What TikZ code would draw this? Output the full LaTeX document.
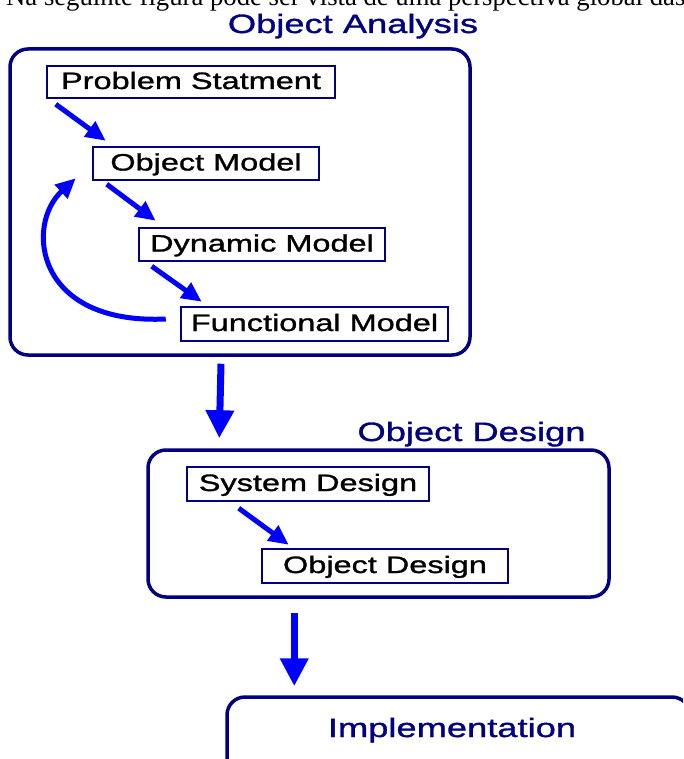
\documentclass[tikz,border=0pt]{standalone}
\usepackage{fontspec}
\usetikzlibrary{arrows.meta,calc}
\newfontfamily\diagsans{Liberation Sans}[FakeStretch=1.37, FakeBold=1.2]
\newfontfamily\topserif{Liberation Serif}
\definecolor{boxnavy}{RGB}{0,0,128}
\definecolor{flowblue}{RGB}{0,0,255}
\tikzset{
  stagebox/.style={draw=boxnavy, line width=3.5pt, rounded corners=18pt, inner sep=0pt},
  modelbox/.style={draw=boxnavy, line width=2.5pt, fill=white, inner sep=0pt,
    font=\diagsans\fontsize{23.7}{28}\selectfont, text=black,
    text height=17pt, text depth=3pt},
  stagetitle/.style={font=\diagsans\fontsize{26.5}{30}\selectfont, text=boxnavy,
    inner sep=0pt, anchor=base},
  flow/.style={draw=flowblue, line width=5pt,
    -{Triangle[length=20pt, width=18pt]}},
  bigflow/.style={draw=flowblue, line width=7pt,
    -{Triangle[length=28pt, width=27pt]}}
}
\begin{document}
\begin{tikzpicture}[x=1pt, y=-1pt]
  \path[use as bounding box] (0,0) rectangle (683,759);
  \clip (0,0) rectangle (683,759);
  \fill[white] (0,0) rectangle (683,759);

  % running text line above the figure
  \node[anchor=base west, inner sep=0pt, font=\topserif\fontsize{26.7}{30}\selectfont]
    (caption) at (6,6) {Na seguinte figura pode ser vista de uma perspectiva global das};

  % stage frames
  \node[stagebox, minimum width=460pt, minimum height=306pt] (oa) at (240,202) {};
  \node[stagebox, minimum width=461pt, minimum height=147pt] (odz) at (378.5,523.5) {};
  \node[stagebox, minimum width=463pt, minimum height=80pt] (impl) at (458.5,737) {};

  % stage titles
  \node[stagetitle] (oatitle) at (353,33) {Object Analysis};
  \node[stagetitle] (odtitle) at (471.5,441) {Object Design};
  \node[stagetitle] (impltitle) at (452,737) {Implementation};

  % model boxes
  \node[modelbox, minimum width=288pt, minimum height=32pt] (ps) at (191,82) {Problem Statment};
  \node[modelbox, minimum width=226pt, minimum height=33pt] (om) at (206,163.5) {Object Model};
  \node[modelbox, minimum width=246pt, minimum height=33pt] (dm) at (262,244.5) {Dynamic Model};
  \node[modelbox, minimum width=267pt, minimum height=34pt] (fm) at (314.5,324) {Functional Model};
  \node[modelbox, minimum width=242pt, minimum height=34pt] (sd) at (308,484) {System Design};
  \node[modelbox, minimum width=246pt, minimum height=34pt] (od) at (385,566) {Object Design};

  % flow inside the analysis stage
  \draw[flow] ($(ps.south west)+(10,5)$) -- ($(om.north west)+(14,-5)$);
  \draw[flow] ($(om.south west)+(15,3)$) -- ($(dm.north west)+(18,-6)$);
  \draw[flow] ($(dm.south west)+(14,4)$) -- ($(fm.north west)+(22,-4)$);
  \draw[flow] ($(fm.west)+(-14,-5)$) .. controls (35,325) and (25,225) .. ($(om.south west)+(-16,-3)$);

  % flow inside the design stage
  \draw[flow] ($(sd.south west)+(53,6)$) -- ($(od.north west)+(28,-3)$);

  % flow between stages
  \draw[bigflow] ($(oa.south)+(-19,7)$) -- ($(odz.north west)+(73,-10)$);
  \draw[bigflow] ($(odz.south west)+(148,14)$) -- ($(impl.north west)+(69,-9)$);
\end{tikzpicture}
\end{document}
